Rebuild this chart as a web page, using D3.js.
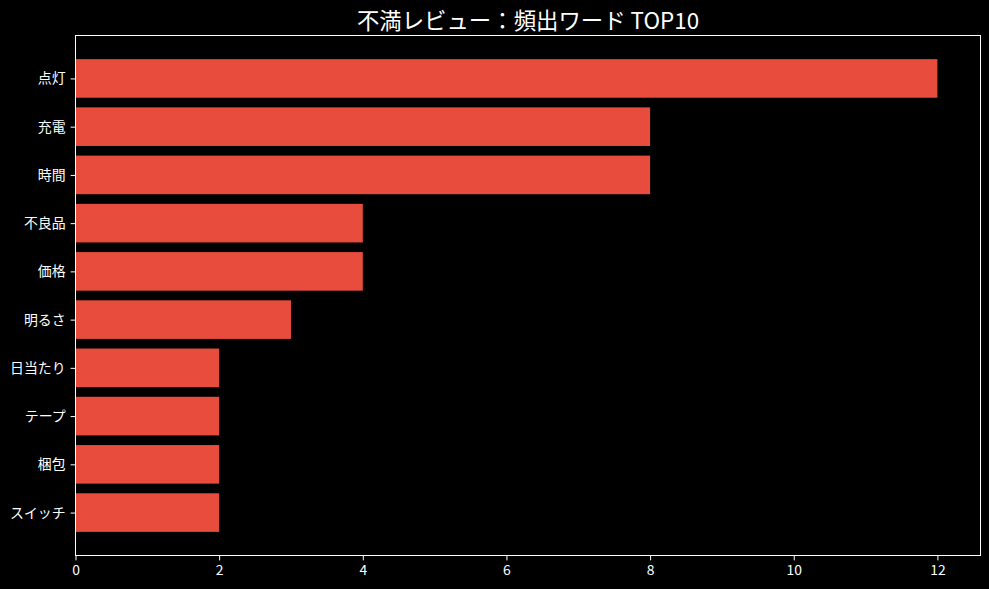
<!DOCTYPE html>
<html><head><meta charset="utf-8">
<script src="https://cdn.jsdelivr.net/npm/d3@7"></script>
<style>html,body{margin:0;padding:0;background:#000;}svg{display:block;}</style>
</head><body>
<script>
const categories = ["点灯","充電","時間","不良品","価格","明るさ","日当たり","テープ","梱包","スイッチ"];
const counts = [12,8,8,4,4,3,2,2,2,2];
const xTicks = [0,2,4,6,8,10,12];
const titleText = "不満レビュー：頻出ワード TOP10";

const W=989,H=589;
const m={l:75.5,r:980.5,t:35.5,b:555.5};
const font="'Noto Sans CJK JP','Noto Sans',sans-serif";
const svg=d3.select("body").append("svg").attr("width",W).attr("height",H).style("background","#000");

const x=d3.scaleLinear().domain([0,12.6]).range([m.l,m.r]);
const y=d3.scaleLinear().domain([-0.89,9.89]).range([m.t,m.b]);
const bh=0.8;

svg.selectAll("rect.bar").data(categories).enter().append("rect")
 .attr("x",x(0)).attr("y",(d,i)=>y(i-bh/2))
 .attr("width",(d,i)=>x(counts[i])-x(0))
 .attr("height",y(bh)-y(0))
 .attr("fill","#e74c3c");

// frame
svg.append("rect").attr("x",m.l).attr("y",m.t).attr("width",m.r-m.l).attr("height",m.b-m.t)
 .attr("fill","none").attr("stroke","#fff").attr("stroke-width",1);

const xa=svg.append("g").attr("transform",`translate(0,${m.b})`)
 .call(d3.axisBottom(x).tickValues(xTicks).tickSize(4.9).tickPadding(4.5).tickFormat(d3.format("d")));
const ya=svg.append("g").attr("transform",`translate(${m.l},0)`)
 .call(d3.axisLeft(y).tickValues(d3.range(categories.length)).tickSize(4.9).tickPadding(5).tickFormat(i=>categories[i]));
[xa,ya].forEach(a=>{
 a.select(".domain").remove();
 a.selectAll("line").attr("stroke","#fff");
 a.selectAll("text").attr("fill","#fff").style("font-family",font).style("font-size","13.9px");
});

svg.append("text").attr("x",(m.l+m.r)/2).attr("y",28.5).attr("text-anchor","middle")
 .attr("fill","#fff").style("font-family",font).style("font-size","22.4px").text(titleText);
</script>
</body></html>
